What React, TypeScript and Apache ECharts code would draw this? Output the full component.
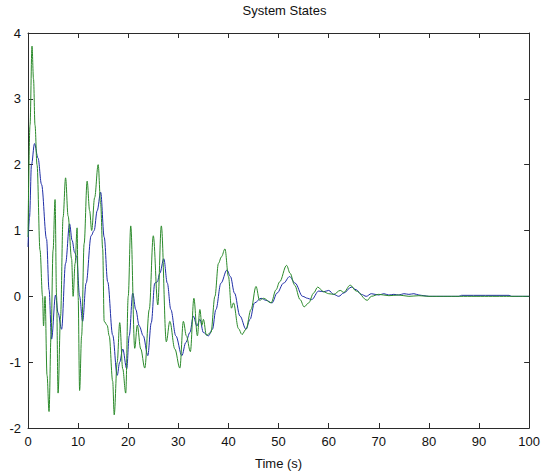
import React, { useEffect, useRef } from "react";
import * as echarts from "echarts";

const title = "System States";
const xName = "Time (s)";

const blueT = [0, 0.3, 0.7, 1.3, 2.0, 2.7, 3.7, 4.2, 4.7, 5.5, 6.0, 6.7, 7.5, 8.3, 8.8, 9.3, 9.7, 10.3, 10.9, 11.6, 12.6, 13.2, 13.8, 14.5, 15.2, 15.9, 16.9, 17.8, 18.3, 18.9, 19.7, 20.2, 20.9, 21.5, 22.2, 23.0, 23.9, 24.6, 25.3, 25.8, 26.3, 27.1, 27.8, 28.5, 29.5, 30.7, 31.5, 32.3, 33.0, 33.7, 34.3, 35.0, 36.0, 36.8, 37.5, 38.5, 39.7, 40.4, 41.2, 42.3, 43.5, 44.3, 45.2, 46.5, 47.5, 48.7, 49.7, 51.0, 52.2, 53.3, 54.8, 55.8, 56.6, 58.0, 59.0, 60, 61, 62, 63, 64.5, 65.5, 66.5, 67.5, 68.5, 70, 71, 72, 73, 74, 75, 76, 77, 78, 79, 80, 86, 86.5, 96, 96.5, 100];
const blueV = [0.75, 1.2, 2.0, 2.32, 2.1, 1.7, 0.87, 0.1, -0.65, 0.02, -0.25, -0.5, 0.5, 1.1, 0.85, 0.67, 0.6, 0.0, -0.38, 0.2, 0.92, 1.0, 1.3, 1.58, 0.9, 0.22, -0.59, -1.2, -1.0, -0.8, -1.1, -0.6, 0.05, -0.2, -0.45, -0.6, -0.9, -0.4, 0.2, 0.22, 0.35, 0.57, 0.2, -0.2, -0.6, -0.9, -0.7, -0.55, -0.3, -0.45, -0.35, -0.55, -0.6, -0.5, -0.2, 0.2, 0.4, 0.3, 0.05, -0.3, -0.5, -0.35, -0.1, -0.03, -0.06, -0.1, 0.05, 0.2, 0.3, 0.2, 0.0, -0.03, -0.05, 0.08, 0.07, 0.09, 0.03, 0.0, 0.05, 0.14, 0.1, 0.03, 0.0, 0.04, 0.02, 0.04, 0.02, 0.03, 0.02, 0.04, 0.03, 0.04, 0.02, 0.01, 0, 0, 0.015, 0.015, 0, 0];

const greenT = [0, 0.4, 0.8, 1.1, 1.4, 1.8, 2.4, 2.9, 3.1, 3.4, 3.8, 4.2, 4.6, 5.0, 5.4, 5.7, 6.0, 6.5, 7.0, 7.5, 8.0, 8.7, 9.0, 9.4, 9.8, 10.0, 10.3, 10.7, 11.2, 11.8, 12.3, 12.7, 13.3, 14.0, 14.5, 14.9, 15.2, 15.8, 16.2, 16.9, 17.2, 17.8, 18.3, 18.9, 19.5, 20.0, 20.5, 21.3, 21.8, 22.5, 23.3, 24.2, 25.0, 25.9, 26.6, 27.6, 28.3, 29.3, 30.3, 31.0, 31.6, 32.4, 33.1, 33.8, 34.3, 34.7, 35.0, 35.6, 36.5, 37.3, 38.0, 38.6, 39.3, 40.0, 40.6, 41.0, 42.0, 42.7, 43.5, 44.5, 45.5, 46.2, 47.0, 48.5, 49.5, 50.2, 51.6, 52.3, 53.2, 54.3, 55.1, 56.0, 57.0, 57.8, 59.0, 60.0, 61.0, 62.3, 63.0, 64.3, 65.5, 67.7, 68.5, 70, 72, 74, 76, 78, 80, 100];
const greenV = [0.9, 2.6, 3.8, 3.3, 2.6, 2.0, 0.7, 0.0, -0.45, 0.0, -1.2, -1.75, -0.6, 0.7, 1.47, 0.0, -1.47, -0.3, 1.2, 1.8, 1.22, 0.57, 0.0, 0.5, 1.04, 0.0, -1.43, -0.6, 0.8, 1.75, 1.3, 1.0, 1.5, 2.0, 1.4, 0.72, -0.38, -0.44, -0.6, -1.29, -1.8, -1.0, -0.4, -1.1, -1.47, 0.0, 1.07, -0.79, -0.44, -0.8, -1.09, -0.2, 0.92, -0.13, 1.07, -0.69, -0.38, -0.8, -1.09, -0.38, -0.6, -0.84, -0.03, -0.6, -0.2, -0.44, -0.35, -0.59, -0.55, 0.0, 0.5, 0.6, 0.72, 0.3, -0.18, -0.1, -0.49, -0.58, -0.5, -0.2, 0.15, -0.06, -0.03, -0.1, 0.1, 0.22, 0.47, 0.35, 0.17, -0.05, -0.16, -0.1, 0.05, 0.14, 0.07, 0.04, 0.03, 0.09, 0.06, 0.17, 0.08, -0.06, 0.0, 0.03, 0.01, 0.02, 0, 0.01, 0, 0];

const font = "'Liberation Sans', Arial, sans-serif";
const axisColor = "#2b2b2b";

export default function App() {
  const ref = useRef<HTMLDivElement>(null);
  useEffect(() => {
    document.body.style.margin = "0";
    const chart = echarts.init(ref.current!, null, { renderer: "svg" });
    const blueData = blueT.map((t, i) => [t, blueV[i]]);
    const greenData = greenT.map((t, i) => [t, greenV[i]]);
    const tickStyle = { inside: true, length: 5, lineStyle: { color: axisColor } };
    const label = { color: "#111", fontSize: 13, fontFamily: font };
    chart.setOption({
      animation: false,
      backgroundColor: "#ffffff",
      title: {
        text: title,
        left: 279.5,
        textAlign: "center",
        top: -1,
        textStyle: { fontSize: 13, fontWeight: "normal", color: "#111", fontFamily: font },
      },
      grid: { left: 28, right: 12, top: 33, bottom: 45, show: false },
      xAxis: [
        {
          type: "value", min: 0, max: 100, interval: 10, position: "bottom",
          name: xName, nameLocation: "middle", nameGap: 29,
          nameTextStyle: { color: "#111", fontSize: 13, fontFamily: font },
          axisLine: { show: true, onZero: false, lineStyle: { color: axisColor } },
          axisTick: tickStyle,
          axisLabel: { ...label, margin: 7 },
          splitLine: { show: false },
        },
        {
          type: "value", min: 0, max: 100, interval: 10, position: "top",
          axisLine: { show: true, onZero: false, lineStyle: { color: axisColor } },
          axisTick: tickStyle,
          axisLabel: { show: false },
          splitLine: { show: false },
        },
      ],
      yAxis: [
        {
          type: "value", min: -2, max: 4, interval: 1, position: "left",
          axisLine: { show: true, onZero: false, lineStyle: { color: axisColor } },
          axisTick: tickStyle,
          axisLabel: { ...label, margin: 7 },
          splitLine: { show: false },
        },
        {
          type: "value", min: -2, max: 4, interval: 1, position: "right",
          axisLine: { show: true, onZero: false, lineStyle: { color: axisColor } },
          axisTick: tickStyle,
          axisLabel: { show: false },
          splitLine: { show: false },
        },
      ],
      series: [
        {
          type: "line", data: blueData, xAxisIndex: 0, yAxisIndex: 0,
          showSymbol: false, symbol: "none", smooth: 0.35, smoothMonotone: "x",
          lineStyle: { color: "#1f2ea6", width: 1 },
        },
        {
          type: "line", data: greenData, xAxisIndex: 0, yAxisIndex: 0,
          showSymbol: false, symbol: "none", smooth: 0.35, smoothMonotone: "x",
          lineStyle: { color: "#2b8a2b", width: 1 },
        },
      ],
    });
    return () => chart.dispose();
  }, []);
  return <div ref={ref} style={{ width: 543, height: 475 }} />;
}
